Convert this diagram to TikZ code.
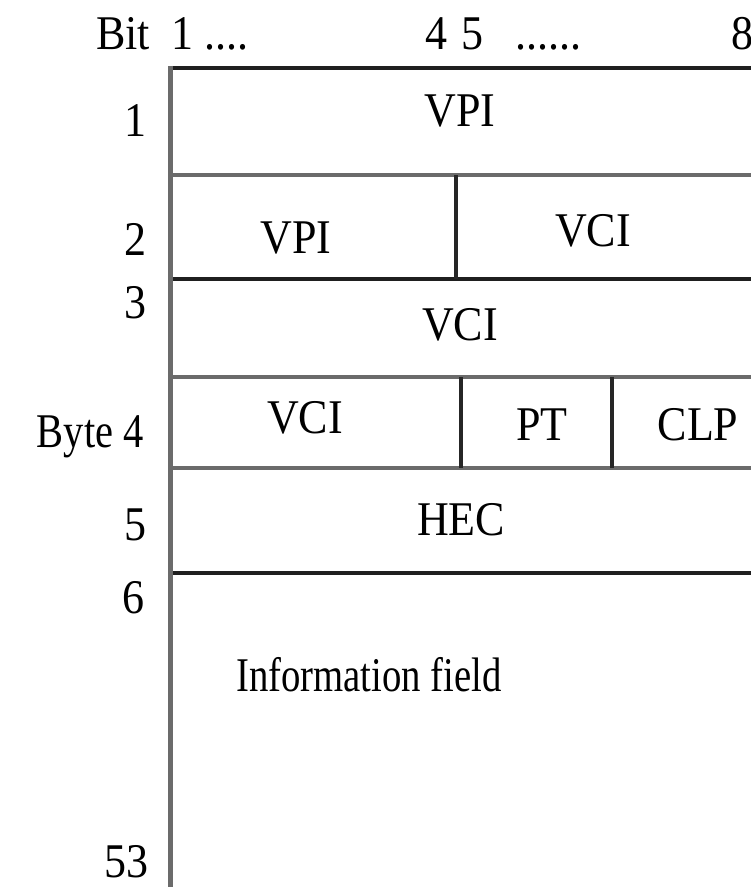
\documentclass[tikz,border=0pt]{standalone}
\usepackage{fontspec}
\setmainfont{Liberation Serif}
\newcommand{\mytx}[2][1]{\scalebox{#1}[1.1]{#2}}
\begin{document}
\begin{tikzpicture}[x=1pt,y=-1pt,
  lbl/.style={font=\fontsize{44}{50}\selectfont, inner sep=0pt},
  dline/.style={draw=black!88, line width=4pt},
  gline/.style={draw=black!58, line width=4.5pt},
  vline/.style={draw=black!85, line width=3.5pt},
  edge/.style={draw=black!58, line width=5pt}]
\useasboundingbox (0,0) rectangle (751,888);
% grid lines
\coordinate (tl) at (170,66);
\coordinate (bl) at (170,887);
\foreach \y/\n in {68/a,175/b,279/c,377/d,468/e,573/f}{
  \coordinate (L\n) at (170,\y);
  \coordinate (R\n) at (753,\y);
}
\draw[dline] (La) -- (Ra);
\draw[gline] (Lb) -- (Rb);
\draw[dline] (Lc) -- (Rc);
\draw[gline] (Ld) -- (Rd);
\draw[gline] (Le) -- (Re);
\draw[dline] (Lf) -- (Rf);
\draw[edge] (tl) -- (bl);
\coordinate (d2t) at (456,175); \coordinate (d2b) at (456,279);
\coordinate (d4t) at (461,377); \coordinate (d4b) at (461,468);
\coordinate (d5t) at (612,377); \coordinate (d5b) at (612,468);
\draw[vline] (d2t) -- (d2b);
\draw[vline] (d4t) -- (d4b);
\draw[vline] (d5t) -- (d5b);
% header
\node[lbl, anchor=base west] (bit) at (96,50) {\mytx{Bit}};
\node[lbl, anchor=base west] (b1) at (171,50) {\mytx{1 ....}};
\node[lbl, anchor=base west] (b4) at (425,50) {\mytx{4}};
\node[lbl, anchor=base west] (b5) at (461,50) {\mytx{5}};
\node[lbl, anchor=base west] (bd) at (515,50) {\mytx{......}};
\node[lbl, anchor=base west] (b8) at (731,50) {\mytx{8}};
% fields
\node[lbl, anchor=base] (f1) at (460,127) {\mytx{VPI}};
\node[lbl, anchor=base] (f2a) at (296,253) {\mytx{VPI}};
\node[lbl, anchor=base] (f2b) at (593,246) {\mytx{VCI}};
\node[lbl, anchor=base] (f3) at (460,340) {\mytx{VCI}};
\node[lbl, anchor=base] (f4a) at (305,433) {\mytx{VCI}};
\node[lbl, anchor=base] (f4b) at (542,440) {\mytx{PT}};
\node[lbl, anchor=base] (f4c) at (698,440) {\mytx{CLP}};
\node[lbl, anchor=base] (f5) at (461,535) {\mytx{HEC}};
\node[lbl, anchor=base west] (info) at (236,691) {\mytx[0.88]{Information field}};
% row labels
\node[lbl, anchor=base east] (r1) at (147,136) {\mytx{1}};
\node[lbl, anchor=base east] (r2) at (147,255) {\mytx{2}};
\node[lbl, anchor=base east] (r3) at (147,318) {\mytx{3}};
\node[lbl, anchor=base east] (r4) at (144,447) {\mytx[0.92]{Byte 4}};
\node[lbl, anchor=base east] (r5) at (147,540) {\mytx{5}};
\node[lbl, anchor=base east] (r6) at (145,613) {\mytx{6}};
\node[lbl, anchor=base east] (r53) at (149,877) {\mytx{53}};
\end{tikzpicture}
\end{document}
